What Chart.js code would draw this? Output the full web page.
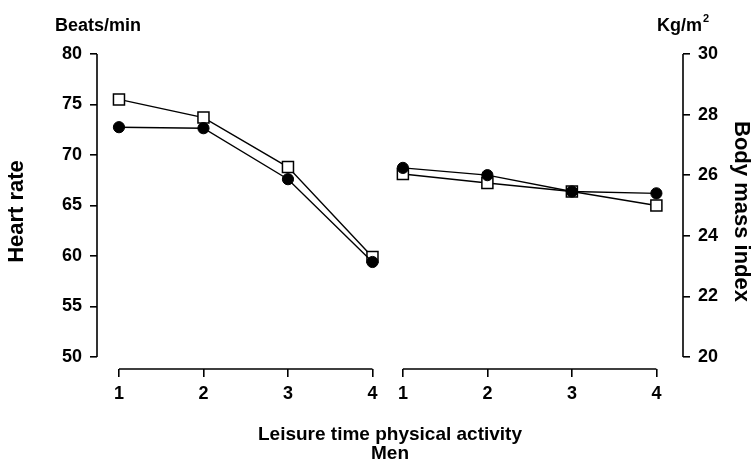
<!DOCTYPE html>
<html>
<head>
<meta charset="utf-8">
<script src="https://cdn.jsdelivr.net/npm/chart.js@4/dist/chart.umd.min.js"></script>
<style>
  html, body { margin: 0; padding: 0; background: #fff; }
  #wrap { width: 754px; height: 463px; }
</style>
</head>
<body>
<div id="wrap"><canvas id="chart"></canvas></div>
<script>
// activity levels, same for both panels
const activity = ['1', '2', '3', '4'];
// heart rate (beats/min)
const hrOpen = [75.5, 73.7, 68.8, 59.9];
const hrFilled = [72.75, 72.65, 67.6, 59.4];
// body mass index (kg/m2)
const bmiOpen = [26.04, 25.74, 25.46, 25.0];
const bmiFilled = [26.24, 26.0, 25.46, 25.4];
// tick labels
const hrTicks = [50, 55, 60, 65, 70, 75, 80];
const bmiTicks = [20, 22, 24, 26, 28, 30];

const FONT = "'Liberation Sans', Arial, sans-serif";
const rightShift = 3.36; // right panel sits after left panel on the same x scale
const xLeft = activity.map((a, i) => i + 1);
const xRight = activity.map((a, i) => i + 1 + rightShift);

const toPts = (xs, ys) => xs.map((x, i) => ({ x: x, y: ys[i] }));

const filledStyle = {
  pointStyle: 'circle', pointRadius: 5.6, pointBackgroundColor: '#000',
  pointBorderColor: '#000', pointBorderWidth: 1, borderColor: '#000', borderWidth: 1.4
};
const openStyle = {
  pointStyle: 'rect', pointRadius: 7.8, pointBackgroundColor: '#fff',
  pointBorderColor: '#000', pointBorderWidth: 1.5, borderColor: '#000', borderWidth: 1.4
};

// axis lines only over the data range, like the original
const axisLines = {
  id: 'axisLines',
  afterDraw(chart) {
    const ctx = chart.ctx, x = chart.scales.x, y = chart.scales.y, y2 = chart.scales.y2;
    ctx.save();
    ctx.strokeStyle = '#000';
    ctx.lineWidth = 1.6;
    ctx.beginPath();
    ctx.moveTo(x.getPixelForValue(xLeft[0]), x.top);
    ctx.lineTo(x.getPixelForValue(xLeft[3]), x.top);
    ctx.moveTo(x.getPixelForValue(xRight[0]), x.top);
    ctx.lineTo(x.getPixelForValue(xRight[3]), x.top);
    ctx.moveTo(y.right, y.getPixelForValue(hrTicks[0]));
    ctx.lineTo(y.right, y.getPixelForValue(hrTicks[hrTicks.length - 1]));
    ctx.moveTo(y2.left, y2.getPixelForValue(bmiTicks[0]));
    ctx.lineTo(y2.left, y2.getPixelForValue(bmiTicks[bmiTicks.length - 1]));
    ctx.stroke();

    // units above the axes
    ctx.fillStyle = '#000';
    ctx.textBaseline = 'alphabetic';
    ctx.font = 'bold 18px ' + FONT;
    ctx.fillText('Beats/min', 55, 31);
    ctx.fillText('Kg/m', 657, 31);
    const w = ctx.measureText('Kg/m').width;
    ctx.font = 'bold 11px ' + FONT;
    ctx.fillText('2', 657 + w + 1, 22);
    ctx.restore();
  }
};

new Chart(document.getElementById('chart'), {
  type: 'line',
  data: {
    datasets: [
      { label: 'HR filled', data: toPts(xLeft, hrFilled), yAxisID: 'y', ...filledStyle },
      { label: 'BMI filled', data: toPts(xRight, bmiFilled), yAxisID: 'y2', ...filledStyle },
      { label: 'HR open', data: toPts(xLeft, hrOpen), yAxisID: 'y', ...openStyle },
      { label: 'BMI open', data: toPts(xRight, bmiOpen), yAxisID: 'y2', ...openStyle }
    ]
  },
  options: {
    responsive: true,
    maintainAspectRatio: false,
    animation: false,
    layout: { padding: { top: 54, left: 0, right: 0, bottom: 0 } },
    plugins: { legend: { display: false }, tooltip: { enabled: false } },
    scales: {
      x: {
        type: 'linear',
        min: 0.74,
        max: 7.675,
        afterBuildTicks: s => { s.ticks = xLeft.concat(xRight).map(v => ({ value: v })); },
        afterFit: s => { s.height = 94; },
        ticks: {
          autoSkip: false, maxRotation: 0, padding: 6, color: '#000',
          font: { family: FONT, size: 18, weight: 'bold' },
          callback: (v, i) => activity[i % activity.length]
        },
        grid: { drawOnChartArea: false, drawTicks: true, tickLength: 8, color: '#000', lineWidth: 1.6 },
        border: { display: false },
        title: {
          display: true, text: ['Leisure time physical activity', 'Men'], color: '#000',
          font: { family: FONT, size: 19, weight: 'bold', lineHeight: 1.0 },
          padding: { top: 0, bottom: 0 }
        }
      },
      y: {
        position: 'left',
        min: 48.8,
        max: 80,
        afterBuildTicks: s => { s.ticks = hrTicks.map(v => ({ value: v })); },
        afterFit: s => { s.width = 97; },
        ticks: { padding: 8, color: '#000', font: { family: FONT, size: 18, weight: 'bold' } },
        grid: { drawOnChartArea: false, drawTicks: true, tickLength: 7, color: '#000', lineWidth: 1.6 },
        border: { display: false },
        title: {
          display: true, text: 'Heart rate', color: '#000',
          font: { family: FONT, size: 22, weight: 'bold' }, padding: { top: 4, bottom: 0 }
        }
      },
      y2: {
        position: 'right',
        min: 19.6,
        max: 30,
        afterBuildTicks: s => { s.ticks = bmiTicks.map(v => ({ value: v })); },
        afterFit: s => { s.width = 71; },
        ticks: { padding: 8, color: '#000', font: { family: FONT, size: 18, weight: 'bold' } },
        grid: { drawOnChartArea: false, drawTicks: true, tickLength: 7, color: '#000', lineWidth: 1.6 },
        border: { display: false },
        title: {
          display: true, text: 'Body mass index', color: '#000',
          font: { family: FONT, size: 22, weight: 'bold' }, padding: { top: 0, bottom: 0 }
        }
      }
    }
  },
  plugins: [axisLines]
});
</script>
</body>
</html>
